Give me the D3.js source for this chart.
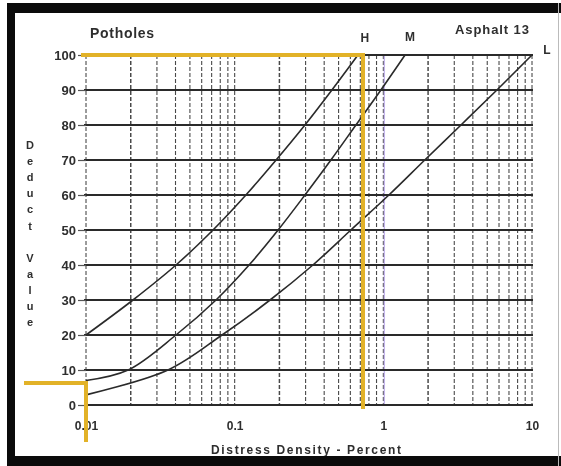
<!DOCTYPE html>
<html>
<head>
<meta charset="utf-8">
<script src="https://cdn.jsdelivr.net/npm/d3@7"></script>
<style>
  html, body { margin: 0; padding: 0; background: #fff; }
  svg { display: block; }
  text { font-family: "Liberation Sans", Arial, sans-serif; fill: #2e2e2e; }
</style>
</head>
<body>
<script>
// ---- data ----
const yTicks = [0, 10, 20, 30, 40, 50, 60, 70, 80, 90, 100];
const xTicks = [0.01, 0.1, 1, 10];
const xTickLabels = ["0.01", "0.1", "1", "10"];
const deductH = [20, 30, 40, 50, 60, 70, 80, 90, 100];
const densityH = [0.01, 0.0207, 0.0403, 0.0715, 0.119, 0.190, 0.297, 0.451, 0.675];
const deductM = [7, 10, 20, 30, 40, 50, 60, 70, 80, 90, 100];
const densityM = [0.01, 0.0192, 0.0403, 0.0749, 0.125, 0.196, 0.297, 0.444, 0.654, 0.963, 1.40];
const deductL = [2.9, 10, 20, 30, 40, 50, 60, 70, 80, 90, 100];
const densityL = [0.01, 0.0356, 0.0822, 0.173, 0.336, 0.605, 1.09, 1.90, 3.33, 5.81, 10];
const seriesNames = ["H", "M", "L"];
const guideDensity = [0.01, 0.73];
const guideValue = [6.3, 100];
const chartTitle = "Potholes";
const chartTag = "Asphalt 13";
const xTitle = "Distress Density - Percent";
const yTitle = "Deduct Value";

const series = [
  deductH.map((v, i) => ({ x: densityH[i], y: v })),
  deductM.map((v, i) => ({ x: densityM[i], y: v })),
  deductL.map((v, i) => ({ x: densityL[i], y: v }))
];

// ---- layout ----
const W = 561, H = 466;
const svg = d3.select("body").append("svg").attr("width", W).attr("height", H);

const defs = svg.append("defs");
defs.append("filter").attr("id", "scan")
  .append("feGaussianBlur").attr("stdDeviation", 0.55);

const x = d3.scaleLog().domain([0.01, 10]).range([86, 532]);
const y = d3.scaleLinear().domain([0, 100]).range([405, 55]);

const g = svg.append("g").attr("filter", "url(#scan)");

// vertical grid lines (log minor)
const vGrid = [];
[0.01, 0.1, 1].forEach(d => { for (let k = 1; k <= 9; k++) vGrid.push(+(k * d).toPrecision(3)); });
vGrid.push(10);
g.append("g").selectAll("line").data(vGrid).join("line")
  .attr("x1", d => x(d)).attr("x2", d => x(d))
  .attr("y1", y(100)).attr("y2", y(0))
  .attr("stroke", "#4a4a4a")
  .attr("stroke-width", d => (d === 0.02 || d === 0.2 || d === 2) ? 1.5 : 1.1)
  .attr("stroke-dasharray", "4,2");

// lavender line at 1
g.append("line")
  .attr("x1", x(1) + 1).attr("x2", x(1) + 1)
  .attr("y1", y(100)).attr("y2", y(0))
  .attr("stroke", "#b6a3e6").attr("stroke-width", 1.4).attr("opacity", 0.8);

// horizontal grid lines
g.append("g").selectAll("line").data(yTicks).join("line")
  .attr("x1", x(0.01) - 2).attr("x2", x(10) + 1)
  .attr("y1", d => y(d)).attr("y2", d => y(d))
  .attr("stroke", "#2a2a2a").attr("stroke-width", 2.2);

// y axis
const yAxis = d3.axisLeft(y).tickValues(yTicks).tickSize(8).tickPadding(2);
const ya = g.append("g").attr("transform", `translate(${x(0.01)},0)`).call(yAxis);
ya.select(".domain").remove();
ya.selectAll(".tick line").attr("stroke", "#555").attr("stroke-width", 1.2);
ya.selectAll(".tick text").style("font-size", "13px").style("font-weight", "bold")
  .attr("fill", "#3a3a3a");

// x axis
const xAxis = d3.axisBottom(x).tickValues(xTicks)
  .tickFormat((d, i) => xTickLabels[i]).tickSize(0).tickPadding(16);
const xa = g.append("g").attr("transform", `translate(0,${y(0)})`).call(xAxis);
xa.select(".domain").remove();
xa.selectAll(".tick text").style("font-size", "12px").style("font-weight", "bold").attr("fill", "#3a3a3a");

// curves
const line = d3.line().x(d => x(d.x)).y(d => y(d.y)).curve(d3.curveCatmullRom.alpha(0.5));
g.append("g").selectAll("path").data(series).join("path")
  .attr("d", line).attr("fill", "none")
  .attr("stroke", "#2a2a2a").attr("stroke-width", 1.6);

// curve labels
const labelOffsets = [[7, -17], [5, -18], [15, -5]];
g.append("g").selectAll("text").data(series).join("text")
  .attr("x", (s, i) => x(s[s.length - 1].x) + labelOffsets[i][0])
  .attr("y", (s, i) => y(s[s.length - 1].y) + labelOffsets[i][1])
  .attr("text-anchor", "middle").attr("dominant-baseline", "central")
  .style("font-size", "12px").style("font-weight", "bold")
  .text((s, i) => seriesNames[i]);

// yellow guides
const gold = "#e2b228";
const yg = svg.append("g").attr("stroke", gold).attr("stroke-width", 4).attr("fill", "none")
  .attr("stroke-linecap", "square");
yg.append("polyline").attr("points", [
  [x(guideDensity[0]) - 3, y(guideValue[1])],
  [x(guideDensity[1]), y(guideValue[1])],
  [x(guideDensity[1]), y(0) + 2]
].map(p => p.join(",")).join(" "));
yg.append("polyline").attr("points", [
  [26, y(guideValue[0])],
  [x(guideDensity[0]), y(guideValue[0])],
  [x(guideDensity[0]), 440]
].map(p => p.join(",")).join(" "));

// titles
g.append("text").attr("x", 90).attr("y", 33).attr("dominant-baseline", "central")
  .style("font-size", "14px").style("font-weight", "bold").attr("textLength", 64).text(chartTitle);
g.append("text").attr("x", 455).attr("y", 29).attr("dominant-baseline", "central")
  .style("font-size", "13px").style("font-weight", "bold").attr("textLength", 74).text(chartTag);
g.append("text").attr("x", 211).attr("y", 450).attr("dominant-baseline", "central")
  .style("font-size", "12px").style("font-weight", "bold")
  .attr("textLength", 190).attr("lengthAdjust", "spacing").text(xTitle);

// vertical stacked y title
const letters = yTitle.split("");
g.append("g").selectAll("text").data(letters).join("text")
  .attr("x", 30).attr("y", (d, i) => 145 + i * 16.1)
  .attr("text-anchor", "middle").attr("dominant-baseline", "central")
  .style("font-size", "11px").style("font-weight", "bold")
  .text(d => d);

// frame
const frame = svg.append("g").attr("fill", "#0b0b0b");
frame.append("rect").attr("x", 7).attr("y", 3).attr("width", W - 7).attr("height", 10);
frame.append("rect").attr("x", 7).attr("y", 3).attr("width", 8).attr("height", H - 3);
frame.append("rect").attr("x", 7).attr("y", 456).attr("width", W - 7).attr("height", 10);
svg.append("line").attr("x1", 558.5).attr("x2", 558.5).attr("y1", 3).attr("y2", H)
  .attr("stroke", "#bbb").attr("stroke-width", 1);
</script>
</body>
</html>
